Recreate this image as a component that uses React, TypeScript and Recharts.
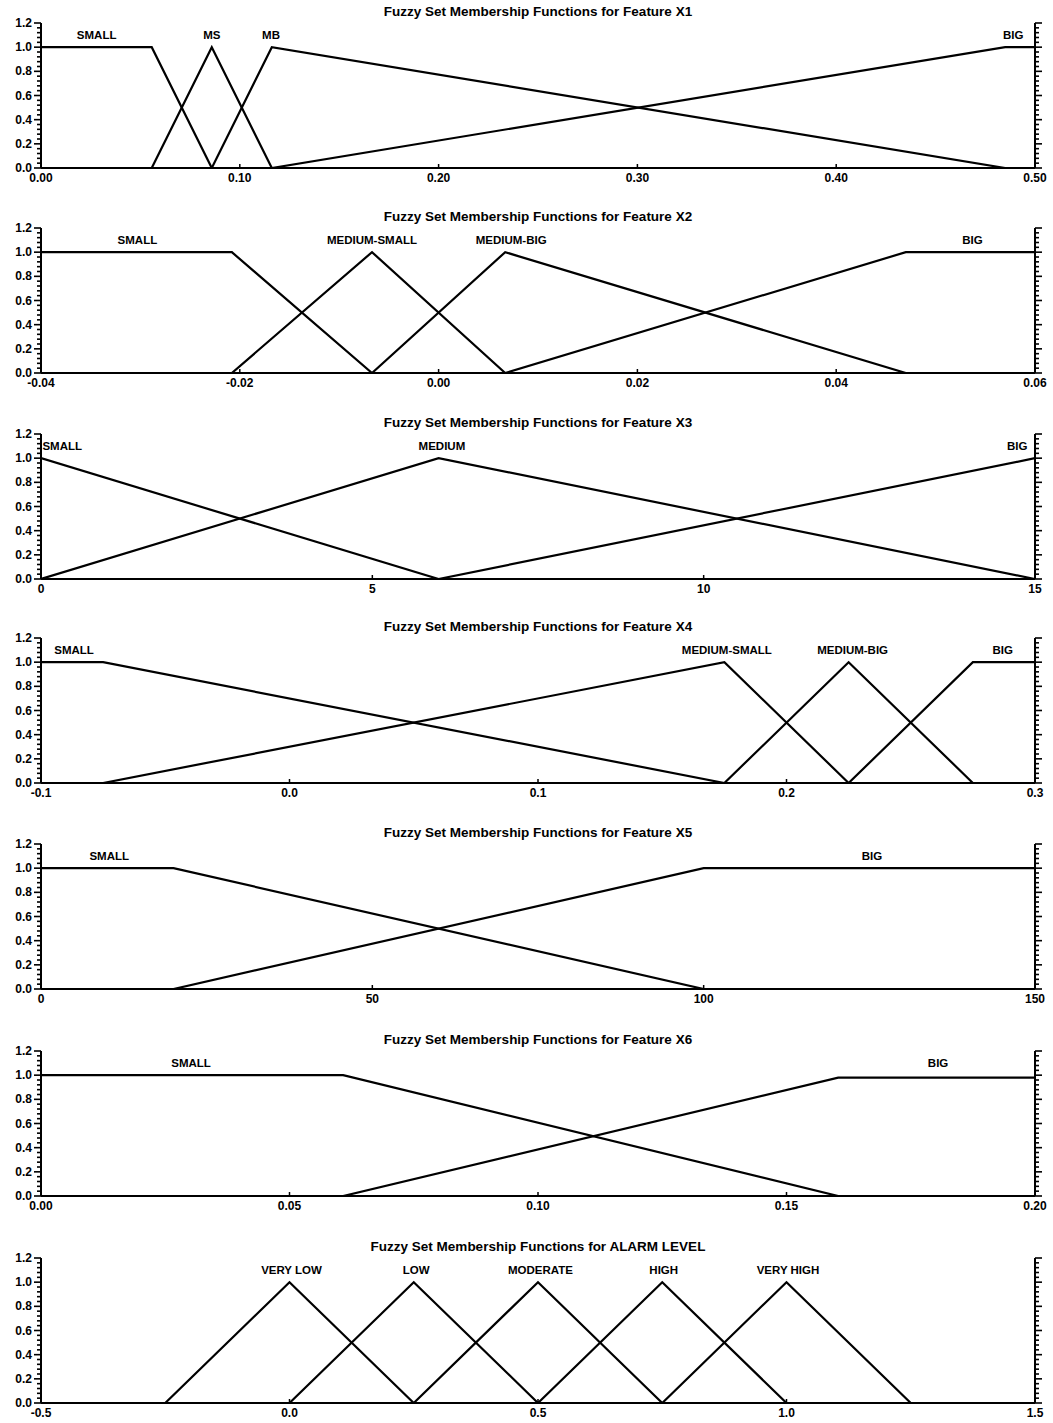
import React from 'react';
import { ComposedChart, Line, XAxis, YAxis, ReferenceDot } from 'recharts';

const FONT = '"Liberation Sans", Arial, sans-serif';

// shared membership-axis ticks
const Y_ALL_TICKS = [0, 0.04, 0.08, 0.12, 0.16, 0.2, 0.24, 0.28, 0.32, 0.36, 0.4, 0.44, 0.48, 0.52, 0.56, 0.6, 0.64, 0.68, 0.72, 0.76, 0.8, 0.84, 0.88, 0.92, 0.96, 1.0, 1.04, 1.08, 1.12, 1.16, 1.2];
const LABEL_Y = 1.1;

// ---- Feature X1
const X1_TICKS = [0, 0.1, 0.2, 0.3, 0.4, 0.5];
const X1_TICK_LABELS = ['0.00', '0.10', '0.20', '0.30', '0.40', '0.50'];
const X1_SMALL = [{ x: 0, y: 1 }, { x: 0.0557, y: 1 }, { x: 0.0859, y: 0 }];
const X1_MS = [{ x: 0.0557, y: 0 }, { x: 0.0859, y: 1 }, { x: 0.1161, y: 0 }];
const X1_MB = [{ x: 0.0859, y: 0 }, { x: 0.1161, y: 1 }, { x: 0.485, y: 0 }];
const X1_BIG = [{ x: 0.1161, y: 0 }, { x: 0.485, y: 1 }, { x: 0.5, y: 1 }];
const X1_LABELS = [{ name: 'SMALL', x: 0.028 }, { name: 'MS', x: 0.0859 }, { name: 'MB', x: 0.1157 }, { name: 'BIG', x: 0.489 }];

// ---- Feature X2
const X2_TICKS = [-0.04, -0.02, 0, 0.02, 0.04, 0.06];
const X2_TICK_LABELS = ['-0.04', '-0.02', '0.00', '0.02', '0.04', '0.06'];
const X2_SMALL = [{ x: -0.04, y: 1 }, { x: -0.0208, y: 1 }, { x: -0.0067, y: 0 }];
const X2_MS = [{ x: -0.0208, y: 0 }, { x: -0.0067, y: 1 }, { x: 0.0067, y: 0 }];
const X2_MB = [{ x: -0.0067, y: 0 }, { x: 0.0067, y: 1 }, { x: 0.047, y: 0 }];
const X2_BIG = [{ x: 0.0067, y: 0 }, { x: 0.047, y: 1 }, { x: 0.06, y: 1 }];
const X2_LABELS = [{ name: 'SMALL', x: -0.0303 }, { name: 'MEDIUM-SMALL', x: -0.0067 }, { name: 'MEDIUM-BIG', x: 0.0073 }, { name: 'BIG', x: 0.0537 }];

// ---- Feature X3
const X3_TICKS = [0, 5, 10, 15];
const X3_TICK_LABELS = ['0', '5', '10', '15'];
const X3_SMALL = [{ x: 0, y: 1 }, { x: 6, y: 0 }];
const X3_MEDIUM = [{ x: 0, y: 0 }, { x: 6, y: 1 }, { x: 15, y: 0 }];
const X3_BIG = [{ x: 6, y: 0 }, { x: 15, y: 1 }];
const X3_LABELS = [{ name: 'SMALL', x: 0.32 }, { name: 'MEDIUM', x: 6.05 }, { name: 'BIG', x: 14.73 }];

// ---- Feature X4
const X4_TICKS = [-0.1, 0, 0.1, 0.2, 0.3];
const X4_TICK_LABELS = ['-0.1', '0.0', '0.1', '0.2', '0.3'];
const X4_SMALL = [{ x: -0.1, y: 1 }, { x: -0.075, y: 1 }, { x: 0.175, y: 0 }];
const X4_MS = [{ x: -0.075, y: 0 }, { x: 0.175, y: 1 }, { x: 0.225, y: 0 }];
const X4_MB = [{ x: 0.175, y: 0 }, { x: 0.225, y: 1 }, { x: 0.275, y: 0 }];
const X4_BIG = [{ x: 0.225, y: 0 }, { x: 0.275, y: 1 }, { x: 0.3, y: 1 }];
const X4_LABELS = [{ name: 'SMALL', x: -0.0867 }, { name: 'MEDIUM-SMALL', x: 0.176 }, { name: 'MEDIUM-BIG', x: 0.2266 }, { name: 'BIG', x: 0.287 }];

// ---- Feature X5
const X5_TICKS = [0, 50, 100, 150];
const X5_TICK_LABELS = ['0', '50', '100', '150'];
const X5_SMALL = [{ x: 0, y: 1 }, { x: 20, y: 1 }, { x: 100, y: 0 }];
const X5_BIG = [{ x: 20, y: 0 }, { x: 100, y: 1 }, { x: 150, y: 1 }];
const X5_LABELS = [{ name: 'SMALL', x: 10.3 }, { name: 'BIG', x: 125.4 }];

// ---- Feature X6
const X6_TICKS = [0, 0.05, 0.1, 0.15, 0.2];
const X6_TICK_LABELS = ['0.00', '0.05', '0.10', '0.15', '0.20'];
const X6_SMALL = [{ x: 0, y: 1 }, { x: 0.0608, y: 1 }, { x: 0.1604, y: 0 }];
const X6_BIG = [{ x: 0.0608, y: 0 }, { x: 0.1604, y: 0.98 }, { x: 0.2, y: 0.98 }];
const X6_LABELS = [{ name: 'SMALL', x: 0.0302 }, { name: 'BIG', x: 0.1805 }];

// ---- Alarm level
const AL_TICKS = [-0.5, 0, 0.5, 1.0, 1.5];
const AL_TICK_LABELS = ['-0.5', '0.0', '0.5', '1.0', '1.5'];
const AL_VERY_LOW = [{ x: -0.25, y: 0 }, { x: 0, y: 1 }, { x: 0.25, y: 0 }];
const AL_LOW = [{ x: 0, y: 0 }, { x: 0.25, y: 1 }, { x: 0.5, y: 0 }];
const AL_MODERATE = [{ x: 0.25, y: 0 }, { x: 0.5, y: 1 }, { x: 0.75, y: 0 }];
const AL_HIGH = [{ x: 0.5, y: 0 }, { x: 0.75, y: 1 }, { x: 1.0, y: 0 }];
const AL_VERY_HIGH = [{ x: 0.75, y: 0 }, { x: 1.0, y: 1 }, { x: 1.25, y: 0 }];
const AL_LABELS = [{ name: 'VERY LOW', x: 0.004 }, { name: 'LOW', x: 0.255 }, { name: 'MODERATE', x: 0.505 }, { name: 'HIGH', x: 0.753 }, { name: 'VERY HIGH', x: 1.003 }];

const PANELS = [
  { top: 23, title: 'Fuzzy Set Membership Functions for Feature X1', ticks: X1_TICKS, tickLabels: X1_TICK_LABELS, series: [X1_SMALL, X1_MS, X1_MB, X1_BIG], labels: X1_LABELS },
  { top: 228, title: 'Fuzzy Set Membership Functions for Feature X2', ticks: X2_TICKS, tickLabels: X2_TICK_LABELS, series: [X2_SMALL, X2_MS, X2_MB, X2_BIG], labels: X2_LABELS },
  { top: 434, title: 'Fuzzy Set Membership Functions for Feature X3', ticks: X3_TICKS, tickLabels: X3_TICK_LABELS, series: [X3_SMALL, X3_MEDIUM, X3_BIG], labels: X3_LABELS },
  { top: 638, title: 'Fuzzy Set Membership Functions for Feature X4', ticks: X4_TICKS, tickLabels: X4_TICK_LABELS, series: [X4_SMALL, X4_MS, X4_MB, X4_BIG], labels: X4_LABELS },
  { top: 844, title: 'Fuzzy Set Membership Functions for Feature X5', ticks: X5_TICKS, tickLabels: X5_TICK_LABELS, series: [X5_SMALL, X5_BIG], labels: X5_LABELS },
  { top: 1051, title: 'Fuzzy Set Membership Functions for Feature X6', ticks: X6_TICKS, tickLabels: X6_TICK_LABELS, series: [X6_SMALL, X6_BIG], labels: X6_LABELS },
  { top: 1258, title: 'Fuzzy Set Membership Functions for ALARM LEVEL', ticks: AL_TICKS, tickLabels: AL_TICK_LABELS, series: [AL_VERY_LOW, AL_LOW, AL_MODERATE, AL_HIGH, AL_VERY_HIGH], labels: AL_LABELS },
];

const isMajorY = (v: number) => Math.abs(v * 5 - Math.round(v * 5)) < 1e-6;

const LeftTick = (props: any) => {
  const { x, y, payload } = props;
  const major = isMajorY(payload.value);
  return (
    <g>
      <line x1={x} x2={x - (major ? 7 : 4)} y1={y} y2={y} stroke="#000" strokeWidth={1.6} />
      {major && (
        <text x={x - 9} y={y + 4} textAnchor="end" fontFamily={FONT} fontWeight="bold" fontSize={12} fill="#000">
          {payload.value.toFixed(1)}
        </text>
      )}
    </g>
  );
};

const RightTick = (props: any) => {
  const { x, y, payload } = props;
  const major = isMajorY(payload.value);
  return (
    <g>
      <line x1={x} x2={x + (major ? 7 : 4)} y1={y} y2={y} stroke="#000" strokeWidth={1.6} />
    </g>
  );
};

const makeBottomTick = (ticks: number[], labels: string[]) => (props: any) => {
  const { x, y, payload } = props;
  const idx = ticks.findIndex((t) => Math.abs(t - payload.value) < 1e-9);
  return (
    <g>
      <line x1={x} x2={x} y1={y} y2={y - 4} stroke="#000" strokeWidth={1.5} />
      <text x={x} y={y + 14} textAnchor="middle" fontFamily={FONT} fontWeight="bold" fontSize={12} fill="#000">
        {idx >= 0 ? labels[idx] : ''}
      </text>
    </g>
  );
};

const TopTick = (props: any) => {
  const { x, y } = props;
  return (
    <g>
      <line x1={x} x2={x} y1={y} y2={y + 4} stroke="#000" strokeWidth={1.5} />
    </g>
  );
};

const SetLabel = (name: string) => (p: any) => (
  <text x={p.cx} y={p.cy + 4} textAnchor="middle" fontFamily={FONT} fontWeight="bold" fontSize={11.5} fill="#000">
    {name}
  </text>
);

const CHART_H = 190;
const MARGIN_TOP = 20;

function Panel({ p }: { p: any }) {
  const domain = [p.ticks[0], p.ticks[p.ticks.length - 1]];
  const last = p.series.length - 1;
  return (
    <div style={{ position: 'absolute', left: 0, top: p.top - MARGIN_TOP, width: 1053, height: CHART_H }}>
      <div
        style={{
          position: 'absolute',
          left: 41,
          width: 994,
          top: 1,
          textAlign: 'center',
          fontFamily: FONT,
          fontWeight: 'bold',
          fontSize: 13.5,
          lineHeight: '16px',
          color: '#000',
          whiteSpace: 'nowrap',
        }}
      >
        {p.title}
      </div>
      <ComposedChart width={1053} height={CHART_H} margin={{ top: MARGIN_TOP, right: 0, bottom: 0, left: 0 }}>
        <XAxis
          xAxisId="t"
          orientation="top"
          type="number"
          dataKey="x"
          domain={domain}
          ticks={p.ticks}
          interval={0}
          height={0}
          tickSize={0}
          tickMargin={0}
          tickLine={false}
          tick={TopTick}
          axisLine={{ stroke: '#000', strokeWidth: 2 }}
          allowDataOverflow
        />
        <XAxis
          xAxisId="b"
          orientation="bottom"
          type="number"
          dataKey="x"
          domain={domain}
          ticks={p.ticks}
          interval={0}
          height={25}
          tickSize={0}
          tickMargin={0}
          tickLine={false}
          tick={makeBottomTick(p.ticks, p.tickLabels)}
          axisLine={{ stroke: '#000', strokeWidth: 2 }}
          allowDataOverflow
        />
        <YAxis
          yAxisId="l"
          orientation="left"
          type="number"
          dataKey="y"
          domain={[0, 1.2]}
          ticks={Y_ALL_TICKS}
          interval={0}
          width={41}
          tickSize={0}
          tickMargin={0}
          tickLine={false}
          tick={LeftTick}
          axisLine={{ stroke: '#000', strokeWidth: 2 }}
          allowDataOverflow
        />
        <YAxis
          yAxisId="r"
          orientation="right"
          type="number"
          dataKey="y"
          domain={[0, 1.2]}
          ticks={Y_ALL_TICKS}
          interval={0}
          width={18}
          tickSize={0}
          tickMargin={0}
          tickLine={false}
          tick={RightTick}
          axisLine={{ stroke: '#000', strokeWidth: 2 }}
          allowDataOverflow
        />
        {p.series.map((s: any, i: number) => (
          <Line
            key={i}
            data={s}
            dataKey="y"
            xAxisId={i === last ? 't' : 'b'}
            yAxisId={i === last ? 'r' : 'l'}
            type="linear"
            stroke="#000"
            strokeWidth={2.2}
            dot={false}
            activeDot={false}
            isAnimationActive={false}
          />
        ))}
        {p.labels.map((l: any) => (
          <ReferenceDot
            key={l.name}
            x={l.x}
            y={LABEL_Y}
            xAxisId="b"
            yAxisId="l"
            r={1}
            ifOverflow="visible"
            shape={SetLabel(l.name)}
          />
        ))}
      </ComposedChart>
    </div>
  );
}

export default function App() {
  return (
    <div style={{ position: 'absolute', left: 0, top: 0, width: 1053, height: 1423, background: '#fff' }}>
      {PANELS.map((p, i) => (
        <Panel key={i} p={p} />
      ))}
    </div>
  );
}
